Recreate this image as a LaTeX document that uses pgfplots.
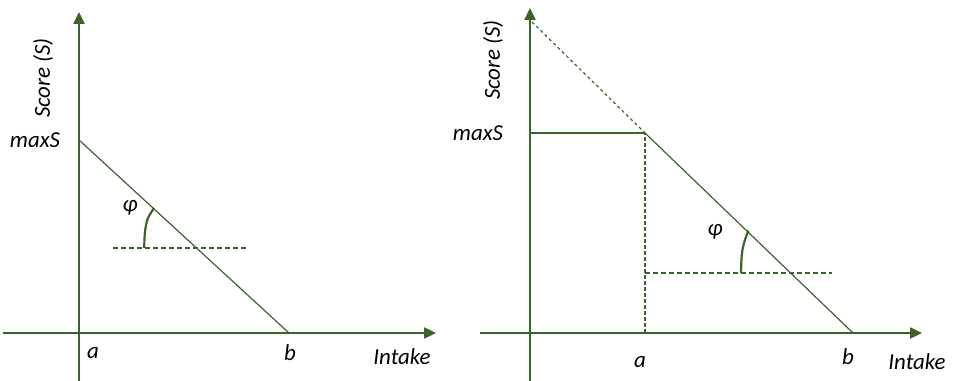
\documentclass[border=0pt]{standalone}
\usepackage{fontspec}
\setmainfont{Carlito}
\usepackage{pgfplots}
\pgfplotsset{compat=1.18}
\usetikzlibrary{arrows.meta}
\definecolor{lg}{HTML}{3A6529}

\tikzset{lbl/.style={font=\fontsize{23}{27}\selectfont\itshape, text=black, inner sep=0pt}}

\pgfplotsset{
  sketch/.style={
    x=1bp, y=1bp,
    axis lines=middle,
    enlargelimits=false,
    clip=false,
    xtick=\empty, ytick=\empty,
    axis line style={draw=lg, line width=2.4bp, -{Triangle[length=12bp,width=11bp]}},
    every axis plot/.append style={draw=lg},
  },
}

\begin{document}
\begin{tikzpicture}
\path[use as bounding box] (0,0) rectangle (954bp,381bp);

% Left: straight response line from maxS at a down to zero at b
\begin{axis}[sketch, anchor=origin, at={(79bp,48bp)},
  xmin=-76, xmax=357, ymin=-48, ymax=321]
  \addplot[line width=1.2bp] coordinates {(0,193) (210,0)};
  \addplot[line width=1.2bp, dash pattern=on 5bp off 3bp] coordinates {(34,85) (168,85)};
  \addplot[line width=2.2bp, smooth] coordinates {(65.3,85) (65.5,95) (66.5,105) (69,115) (75,125)};
  \node[lbl] at (axis cs:51,125) {φ};
  \node[lbl] at (axis cs:-44,193) {maxS};
  \node[lbl, rotate=90] at (axis cs:-36,255) {Score (S)};
  \node[lbl] at (axis cs:14,-20) {a};
  \node[lbl] at (axis cs:211,-20) {b};
  \node[lbl] at (axis cs:323,-24) {Intake};
\end{axis}

% Right: plateau at maxS up to a, then linear decline to b
\begin{axis}[sketch, anchor=origin, at={(530bp,48bp)},
  xmin=-50, xmax=392, ymin=-48, ymax=325]
  \addplot[line width=1.2bp] coordinates {(0,200) (115,200)};
  \addplot[line width=1.2bp] coordinates {(115,200) (323,0)};
  \addplot[line width=1.2bp, dash pattern=on 3bp off 3bp] coordinates {(2,311) (115,200)};
  \addplot[line width=1.2bp, dash pattern=on 4bp off 2bp] coordinates {(115,0) (115,200)};
  \addplot[line width=1.2bp, dash pattern=on 5bp off 3bp] coordinates {(115,60) (302,60)};
  \addplot[line width=2.2bp, smooth] coordinates {(211,60) (211.3,70) (212,80) (214,90) (218.3,102.5)};
  \node[lbl] at (axis cs:185,101) {φ};
  \node[lbl] at (axis cs:-52,200) {maxS};
  \node[lbl, rotate=90] at (axis cs:-37,273) {Score (S)};
  \node[lbl] at (axis cs:110,-29) {a};
  \node[lbl] at (axis cs:318,-24) {b};
  \node[lbl] at (axis cs:387,-29) {Intake};
\end{axis}
\end{tikzpicture}
\end{document}
